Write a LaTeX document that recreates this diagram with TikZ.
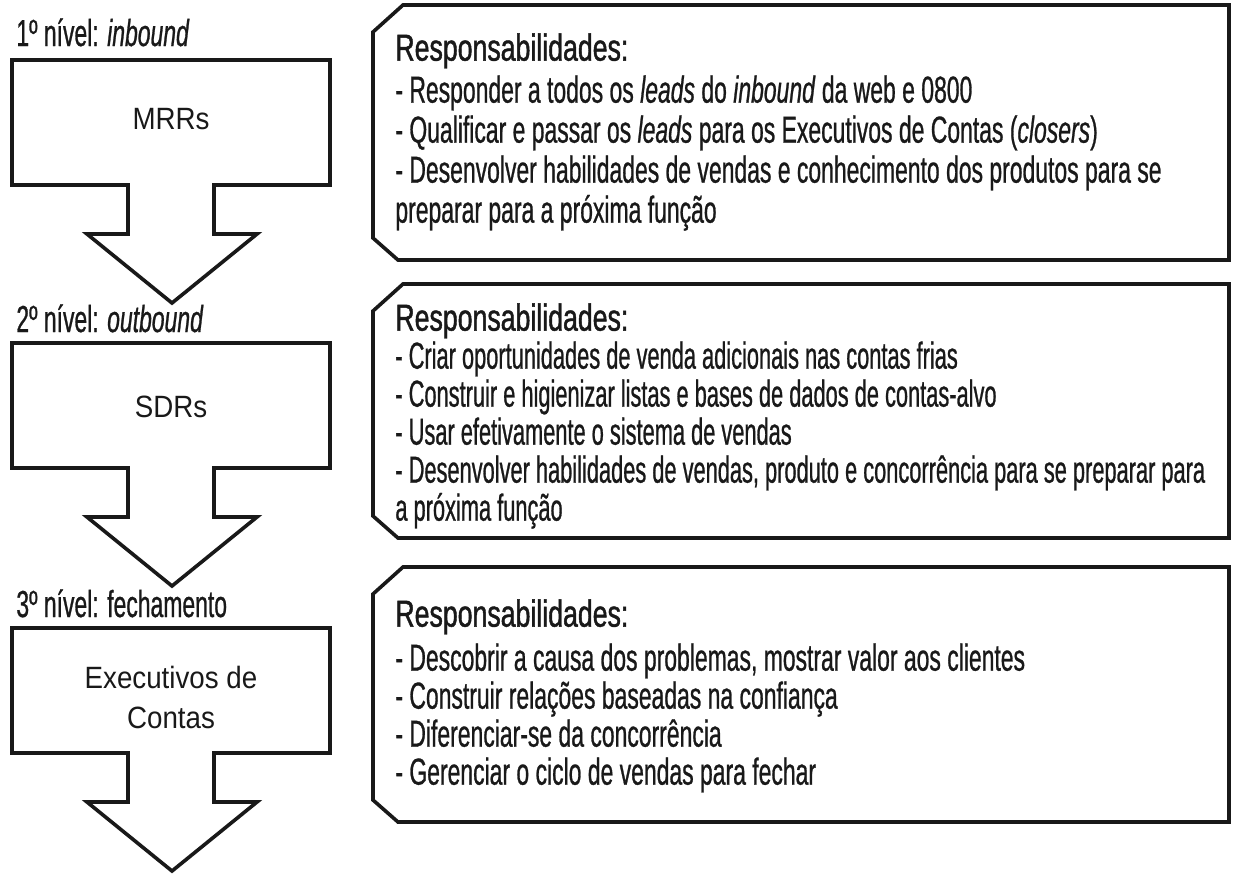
\documentclass[tikz,border=0pt]{standalone}
\usepackage{fontspec}
\setmainfont{Liberation Sans}
\newfontfamily\estreita[FakeStretch=0.61,FakeBold=0.7]{Liberation Sans}
\newfontfamily\estreitab[FakeStretch=0.58,FakeBold=0.7]{Liberation Sans}
\newfontfamily\titulo[FakeStretch=0.71,FakeBold=1.1]{Liberation Sans}
\newfontfamily\media[FakeStretch=0.9]{Liberation Sans}
\usetikzlibrary{positioning}
\definecolor{tinta}{RGB}{25,25,25}

\begin{document}
\begin{tikzpicture}[x=0.5pt,y=-0.5pt,
  contorno/.style={draw=tinta, line width=1.8pt, line join=miter},
  nivel/.style={anchor=base west, inner sep=0pt, text=tinta, font=\estreita\fontsize{18.8}{20}\selectfont},
  papel/.style={inner sep=0pt, align=center, text=tinta, font=\media\fontsize{15.4}{20}\selectfont},
  resp/.style 2 args={anchor=north west, inner sep=0pt, align=left, text=tinta, font=#1\fontsize{18.8}{#2}\selectfont}]

  \useasboundingbox (0,0) rectangle (1236,875);
  \fill[white] (0,0) rectangle (1236,875);

  % setas da esquerda (caixa + haste + ponta)
  \foreach \t in {60,343,628} {
    \draw[contorno] (12,\t) -- (330,\t) -- (330,\t+125) -- (214,\t+125) -- (214,\t+174)
      -- (257,\t+174) -- (172,\t+243) -- (87,\t+174) -- (128,\t+174) -- (128,\t+125)
      -- (12,\t+125) -- cycle;
  }

  % caixas da direita, com cantos cortados
  \foreach \t/\b in {5/260,284/538,567/822} {
    \draw[contorno] (403,\t) -- (1229,\t) -- (1229,\b) -- (398,\b) -- (373,\b-22)
      -- (373,\t+27) -- cycle;
  }

  % niveis
  \node[nivel] (N1) at (16,46) {1º nível: \textit{inbound}};
  \node[nivel] (N2) at (16,332) {2º nível: \textit{outbound}};
  \node[nivel] (N3) at (16,617) {3º nível: fechamento};

  % funcoes
  \node[papel] (F1) at (171,119) {MRRs};
  \node[papel] (F2) at (171,407) {SDRs};
  \node[papel] (F3) at (171,697) {Executivos de\\Contas};

  % responsabilidades
  \node[resp={\estreita}{20pt}] (R1) at (395,33) {{\titulo Responsabilidades:}\\[1pt]
    - Responder a todos os \textit{leads} do \textit{inbound} da web e 0800\\
    - Qualificar e passar os \textit{leads} para os Executivos de Contas (\textit{closers})\\
    - Desenvolver habilidades de vendas e conhecimento dos produtos para se\\
    preparar para a próxima função};
  \node[resp={\estreitab}{19pt}] (R2) at (395,303) {{\titulo Responsabilidades:}\\
    - Criar oportunidades de venda adicionais nas contas frias\\
    - Construir e higienizar listas e bases de dados de contas-alvo\\
    - Usar efetivamente o sistema de vendas\\
    - Desenvolver habilidades de vendas, produto e concorrência para se preparar para\\
    a próxima função};
  \node[resp={\estreita}{19pt}] (R3) at (395,599) {{\titulo Responsabilidades:}\\[3pt]
    - Descobrir a causa dos problemas, mostrar valor aos clientes\\
    - Construir relações baseadas na confiança\\
    - Diferenciar-se da concorrência\\
    - Gerenciar o ciclo de vendas para fechar};
\end{tikzpicture}
\end{document}
